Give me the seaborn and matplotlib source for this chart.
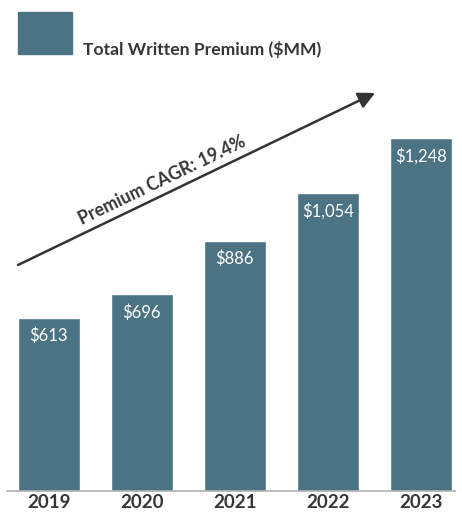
import matplotlib
matplotlib.use("Agg")
import matplotlib.pyplot as plt
import seaborn as sns
import pandas as pd
from matplotlib.patches import Rectangle

# chart data
years = ["2019", "2020", "2021", "2022", "2023"]
premium = [613, 696, 886, 1054, 1248]
value_labels = ["$613", "$696", "$886", "$1,054", "$1,248"]
legend_label = "Total Written Premium ($MM)"
cagr_label = "Premium CAGR: 19.4%"

bar_color = "#4b7383"
text_dark = "#363636"

sns.set_style("white")
plt.rcParams['font.family'] = ['Lato', 'DejaVu Sans']

df = pd.DataFrame({"year": years, "premium": premium})

fig = plt.figure(figsize=(4.62, 5.16), dpi=100)
ax = fig.add_axes([0, 25 / 516, 1, 491 / 516])

sns.barplot(data=df, x="year", y="premium", color=bar_color, width=0.666,
            saturation=1, ax=ax)

ax.set_xlim(-0.521, 4.44)
ax.set_ylim(0, 1738)
ax.set_xlabel("")
ax.set_ylabel("")
ax.set_yticks([])

for s in ["top", "right", "left"]:
    ax.spines[s].set_visible(False)
ax.spines["bottom"].set_color("#b0b0b0")
ax.spines["bottom"].set_linewidth(1.2)
ax.spines["bottom"].set_bounds(-0.446, 4.366)

# year labels
ax.tick_params(axis="x", which="major", length=0, pad=2, labelsize=13.5,
               labelcolor=text_dark)
for lbl in ax.get_xticklabels():
    lbl.set_fontweight("bold")

# separators between bars
ax.set_xticks([-0.446, 0.5, 1.5, 2.5, 3.5], minor=True)
ax.tick_params(axis="x", which="minor", direction="in", length=10,
               width=1.2, color="#b0b0b0")

# value labels inside bars
for i, (v, t) in enumerate(zip(premium, value_labels)):
    ax.text(i, v - 64, t, ha="center", va="center", color="white",
            fontsize=12)

# CAGR arrow
ax.annotate("", xy=(3.507, 1409), xytext=(-0.328, 800),
            arrowprops=dict(arrowstyle="-|>,head_length=1.0,head_width=0.5",
                            color="#333333", lw=1.8, shrinkA=0, shrinkB=0))
ax.text(1.22, 1101, cagr_label, rotation=25.7, rotation_mode="anchor",
        ha="center", va="center", fontsize=12.8, fontweight="bold",
        color=text_dark)

# legend
fig.patches.append(Rectangle((18 / 462, 1 - 54 / 516), 54 / 462, 42 / 516,
                             transform=fig.transFigure, color=bar_color))
fig.text(83 / 462, 1 - 49 / 516, legend_label, ha="left", va="center",
         fontsize=12.6, fontweight="bold", color=text_dark)

fig.savefig("out.png", dpi=100)
